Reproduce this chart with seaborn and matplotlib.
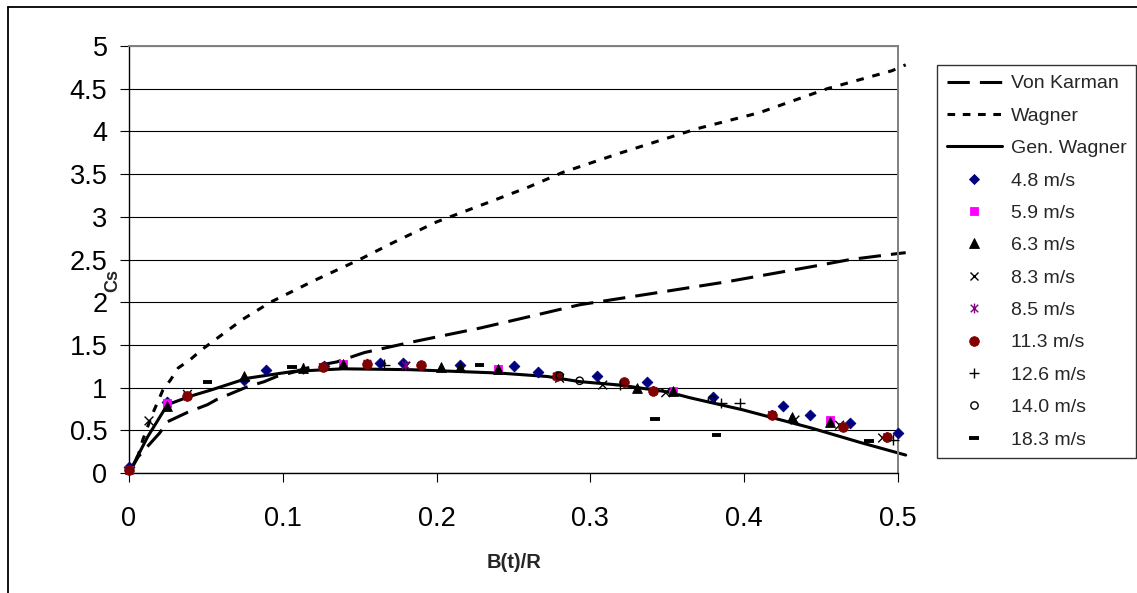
import matplotlib
matplotlib.use("Agg")
import matplotlib.pyplot as plt
import seaborn as sns
from matplotlib.lines import Line2D
from matplotlib.path import Path

# ---- theory curves ----
vk_x = [0, 0.006, 0.012, 0.020, 0.025, 0.038, 0.051, 0.057, 0.069, 0.077, 0.088, 0.096,
        0.109, 0.116, 0.126, 0.135, 0.148, 0.153, 0.183, 0.229, 0.260, 0.293, 0.343,
        0.389, 0.445, 0.469, 0.500, 0.505]
vk_y = [0, 0.19, 0.31, 0.47, 0.60, 0.71, 0.80, 0.86, 0.95, 1.01, 1.07, 1.13,
        1.19, 1.23, 1.27, 1.30, 1.38, 1.41, 1.53, 1.70, 1.83, 1.97, 2.11,
        2.24, 2.42, 2.50, 2.57, 2.58]

wag_x = [0, 0.006, 0.009, 0.015, 0.022, 0.027, 0.032, 0.040, 0.047, 0.056, 0.074, 0.092,
         0.120, 0.150, 0.172, 0.200, 0.231, 0.260, 0.282, 0.320, 0.369, 0.410, 0.454,
         0.496, 0.505]
wag_y = [0, 0.21, 0.39, 0.68, 0.97, 1.09, 1.23, 1.33, 1.44, 1.56, 1.80, 2.00,
         2.25, 2.50, 2.70, 2.94, 3.15, 3.35, 3.52, 3.75, 4.03, 4.22, 4.50,
         4.71, 4.78]

gw_x = [0, 0.012, 0.025, 0.040, 0.053, 0.077, 0.107, 0.139, 0.183, 0.241, 0.272,
        0.293, 0.319, 0.350, 0.365, 0.399, 0.443, 0.475, 0.505]
gw_y = [0, 0.42, 0.80, 0.90, 0.97, 1.11, 1.19, 1.22, 1.21, 1.17, 1.13,
        1.07, 1.03, 0.95, 0.88, 0.74, 0.53, 0.36, 0.21]

# ---- measurements by entry speed ----
v48_x = [0, 0.025, 0.075, 0.089, 0.127, 0.163, 0.178, 0.215, 0.250, 0.266, 0.304,
         0.337, 0.380, 0.425, 0.443, 0.469, 0.500]
v48_y = [0.07, 0.83, 1.09, 1.21, 1.25, 1.29, 1.29, 1.27, 1.25, 1.18, 1.14,
         1.06, 0.89, 0.79, 0.68, 0.59, 0.47]

v59_x = [0, 0.025, 0.139, 0.240, 0.354, 0.456]
v59_y = [0.04, 0.82, 1.28, 1.22, 0.96, 0.62]

v63_x = [0.025, 0.075, 0.113, 0.139, 0.203, 0.215, 0.240, 0.330, 0.354, 0.431, 0.456]
v63_y = [0.78, 1.13, 1.23, 1.28, 1.24, 1.24, 1.22, 1.00, 0.96, 0.65, 0.60]

v83_x = [0.013, 0.038, 0.180, 0.280, 0.308, 0.349, 0.433, 0.462, 0.490]
v83_y = [0.61, 0.92, 1.25, 1.11, 1.03, 0.94, 0.62, 0.56, 0.41]

v85_x = [0, 0.038, 0.126, 0.155, 0.180, 0.278, 0.341, 0.418, 0.464, 0.493]
v85_y = [0.03, 0.90, 1.24, 1.28, 1.26, 1.13, 0.96, 0.68, 0.54, 0.42]

v113_x = [0, 0.038, 0.126, 0.155, 0.190, 0.278, 0.322, 0.341, 0.418, 0.464, 0.493]
v113_y = [0.03, 0.90, 1.24, 1.28, 1.27, 1.14, 1.06, 0.96, 0.68, 0.54, 0.42]

v126_x = [0.113, 0.166, 0.319, 0.385, 0.397, 0.497]
v126_y = [1.22, 1.27, 1.03, 0.82, 0.82, 0.39]

v140_x = [0.280, 0.293, 0.379]
v140_y = [1.14, 1.08, 0.86]

v183_x = [0.051, 0.106, 0.228, 0.342, 0.382, 0.481]
v183_y = [1.06, 1.24, 1.26, 0.63, 0.45, 0.37]

x_ticks = [0, 0.1, 0.2, 0.3, 0.4, 0.5]
x_tick_labels = ["0", "0.1", "0.2", "0.3", "0.4", "0.5"]
y_ticks = [0, 0.5, 1, 1.5, 2, 2.5, 3, 3.5, 4, 4.5, 5]
y_tick_labels = ["0", "0.5", "1", "1.5", "2", "2.5", "3", "3.5", "4", "4.5", "5"]

sns.set_style("white")
plt.rcParams["font.family"] = ["Liberation Sans", "DejaVu Sans"]

W, H = 1137, 593
fig = plt.figure(figsize=(W / 100, H / 100), dpi=100)
ax = fig.add_axes([129 / W, 1 - 473 / H, (898 - 129) / W, (473 - 46) / H])

LW = 2.2
# theory curves
sns.lineplot(x=vk_x, y=vk_y, ax=ax, color="black", lw=LW, sort=False, estimator=None,
             linestyle=(0, (7.3, 3.3)), clip_on=False, zorder=2)
sns.lineplot(x=wag_x, y=wag_y, ax=ax, color="black", lw=LW, sort=False, estimator=None,
             linestyle=(0, (2.5, 2.9)), clip_on=False, zorder=2)
sns.lineplot(x=gw_x, y=gw_y, ax=ax, color="black", lw=LW, sort=False, estimator=None,
             linestyle="-", clip_on=False, zorder=2)

# asterisk marker: a cross with a vertical stroke
star_path = Path([(-1, -1), (1, 1), (-1, 1), (1, -1), (0, -1.3), (0, 1.3)],
                 [Path.MOVETO, Path.LINETO, Path.MOVETO, Path.LINETO, Path.MOVETO, Path.LINETO])

series = [
    # x, y, marker, size, color, filled, linewidth
    (v48_x, v48_y, "D", 30, "#000080", True, 0.6),
    (v59_x, v59_y, "s", 30, "#FF00FF", True, 0.6),
    (v63_x, v63_y, "^", 50, "#000000", True, 0.6),
    (v83_x, v83_y, "x", 40, "#000000", False, 1.0),
    (v85_x, v85_y, star_path, 50, "#800080", False, 1.0),
    (v113_x, v113_y, "o", 48, "#800000", True, 0.6),
    (v126_x, v126_y, "+", 60, "#000000", False, 1.0),
    (v140_x, v140_y, "o", 28, "#000000", False, 1.0),
    (v183_x, v183_y, "_", 48, "#000000", False, 2.8),
]
for i, (sx, sy, mk, sz, col, filled, lw) in enumerate(series):
    sns.scatterplot(x=sx, y=sy, ax=ax, marker=mk, s=sz, color=col, legend=False,
                    clip_on=False, zorder=3 + i * 0.01)
    coll = ax.collections[-1]
    if filled:
        coll.set_facecolor(col)
        coll.set_edgecolor(col)
    else:
        coll.set_facecolor("none")
        coll.set_edgecolor(col)
    coll.set_linewidth(lw)

ax.set_xlim(0, 0.5)
ax.set_ylim(0, 5)
ax.set_xticks(x_ticks)
ax.set_xticklabels(x_tick_labels)
ax.set_yticks(y_ticks)
ax.set_yticklabels(y_tick_labels)
ax.set_xlabel("")
ax.set_ylabel("")
ax.tick_params(axis="both", direction="out", length=6.5, width=0.8, colors="black",
               labelsize=19.5, bottom=True, left=True)
ax.tick_params(axis="y", pad=9)
ax.tick_params(axis="x", pad=17)

ax.yaxis.grid(True, color="black", lw=0.8)
ax.xaxis.grid(False)
ax.set_axisbelow(True)
for side in ("left", "bottom"):
    ax.spines[side].set_color("black")
    ax.spines[side].set_linewidth(1.0)
for side in ("top", "right"):
    ax.spines[side].set_color("#808080")
    ax.spines[side].set_linewidth(1.4)

fig.text(514 / W, 1 - 563 / H, "B(t)/R", ha="center", va="center",
         fontsize=14.5, fontweight="bold")
fig.text(113 / W, 1 - 281 / H, "Cs", ha="center", va="center", rotation=90,
         fontsize=13, fontweight="bold")

# legend
handles = [
    Line2D([], [], color="black", lw=LW, linestyle=(0, (7.3, 3.3))),
    Line2D([], [], color="black", lw=LW, linestyle=(0, (2.5, 2.5))),
    Line2D([], [], color="black", lw=LW, linestyle="-"),
]
for (sx, sy, mk, sz, col, filled, lw) in series:
    handles.append(Line2D([], [], linestyle="none", marker=mk, markersize=sz ** 0.5,
                          markerfacecolor=col if filled else "none",
                          markeredgecolor=col, markeredgewidth=lw))
labels = ["Von Karman", "Wagner", "Gen. Wagner", "4.8 m/s", "5.9 m/s", "6.3 m/s",
          "8.3 m/s", "8.5 m/s", "11.3 m/s", "12.6 m/s", "14.0 m/s", "18.3 m/s"]
leg = fig.legend(handles, labels, loc="upper left", bbox_to_anchor=(937 / W, 1 - 65 / H),
                 frameon=True, fancybox=False, edgecolor="black", fontsize=14,
                 handlelength=2.85, handletextpad=0.45, labelspacing=0.76,
                 borderpad=0.5, borderaxespad=0)
leg.get_frame().set_linewidth(1.0)

# outer chart border (left and top edges)
fig.add_artist(Line2D([8 / W, 8 / W], [0, 1 - 7 / H], transform=fig.transFigure,
                      color="black", lw=1.3))
fig.add_artist(Line2D([8 / W, 1], [1 - 7 / H, 1 - 7 / H], transform=fig.transFigure,
                      color="black", lw=1.3))

fig.savefig("out.png", dpi=100)
